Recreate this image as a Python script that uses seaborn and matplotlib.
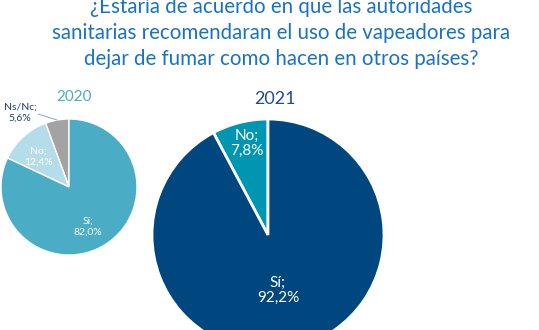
import matplotlib
matplotlib.use("Agg")
import matplotlib.pyplot as plt
import seaborn as sns

# datos
title_lines = ["¿Estaría de acuerdo en que las autoridades",
               "sanitarias recomendaran el uso de vapeadores para",
               "dejar de fumar como hacen en otros países?"]

labels_2020 = ["Ns/Nc", "No", "Sí"]
values_2020 = [5.6, 12.4, 82.0]
colors_2020 = ["#a3a3a3", "#b5dde9", "#4bacc6"]

labels_2021 = ["No", "Sí"]
values_2021 = [7.8, 92.2]
colors_2021 = ["#0096b1", "#00467f"]

sns.set_style("white")
plt.rcParams['font.family'] = ['Lato', 'DejaVu Sans']

W, H = 539, 330
fig = plt.figure(figsize=(W / 100, H / 100), dpi=100)
ax = fig.add_axes([0, 0, 1, 1])

def fmt(v):
    return f"{v:.1f}%".replace(".", ",")

# 2020 (pequeño)
c20 = (69, H - 187)
ax.pie(values_2020, colors=colors_2020, startangle=90, counterclock=True,
       center=c20, radius=68, frame=True,
       wedgeprops=dict(edgecolor='white', linewidth=1))
ax.text(88, H - 227, "Sí;\n" + fmt(values_2020[2]), color='white',
        fontsize=7.5, ha='center', va='center', linespacing=1.3)
ax.text(38, H - 157, "No;\n" + fmt(values_2020[1]), color='white',
        fontsize=7.5, ha='center', va='center', linespacing=1.3)
ax.text(20, H - 113, "Ns/Nc;\n" + fmt(values_2020[0]), color='#1f3f73',
        fontsize=7.5, ha='center', va='center', linespacing=1.3)
ax.plot([38, 57], [H - 114, H - 120], color='#7fa9d0', lw=0.7)
ax.text(74, H - 97, "2020", color='#4bacc6', fontsize=11, ha='center',
        va='center')

# 2021 (grande)
c21 = (268, H - 235)
ax.pie(values_2021, colors=colors_2021, startangle=90, counterclock=True,
       center=c21, radius=116, frame=True,
       wedgeprops=dict(edgecolor='white', linewidth=2))
ax.text(247, H - 143, "No;\n" + fmt(values_2021[0]), color='white',
        fontsize=11, ha='center', va='center', linespacing=1.1)
ax.text(278, H - 290, "Sí;\n" + fmt(values_2021[1]), color='white',
        fontsize=11, ha='center', va='center', linespacing=1.1)
ax.text(275, H - 99, "2021", color='#1f4e8c', fontsize=13, ha='center',
        va='center')

ax.set_xlim(0, W)
ax.set_ylim(0, H)
ax.set_aspect('equal')
ax.axis('off')

# título
for i, line in enumerate(title_lines):
    ax.text(281, H - (13 + 26 * i), line, color='#1a72c4', fontsize=14.8,
            ha='center', va='baseline')

plt.savefig('out.png', dpi=100)
